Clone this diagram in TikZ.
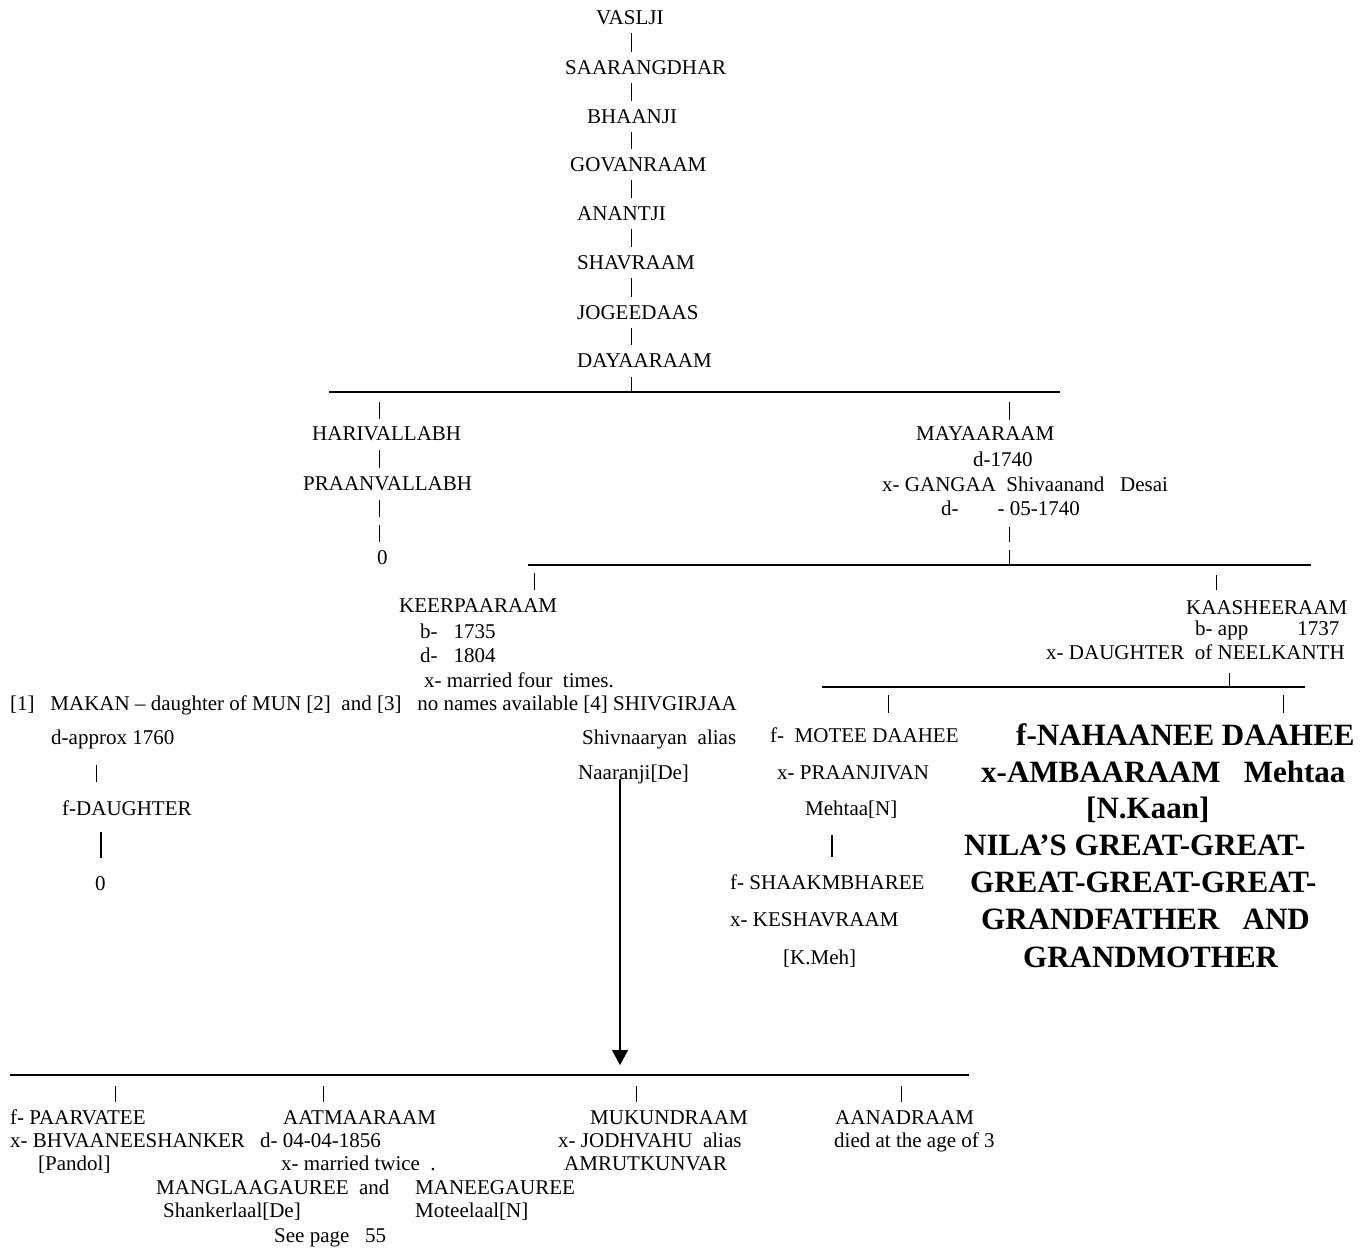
\documentclass[tikz,border=0pt]{standalone}
\usepackage{fontspec}
\setmainfont{Liberation Serif}
\usetikzlibrary{arrows.meta}
\begin{document}
\begin{tikzpicture}[x=1pt,y=-1pt,
  r/.style={inner sep=0pt, anchor=west, text height=14pt, text depth=0pt, font=\fontsize{21}{25}\selectfont},
  bt/.style={inner sep=0pt, anchor=west, text height=21pt, text depth=0pt, font=\fontsize{31}{37}\selectfont\bfseries},
  bar/.style={line width=0.8pt},
  hline/.style={line width=1.2pt},
  thickbar/.style={line width=2.4pt},
  arr/.style={line width=1.4pt, -{Triangle[width=16pt,length=15pt]}}
]
\fill[white] (0,0) rectangle (1364,1251);
\useasboundingbox (0,0) rectangle (1364,1251);

% ---------- top chain ----------
\node[r] (vaslji) at (596,17) {VASLJI};
\node[r] (saar)   at (565,67) {SAARANGDHAR};
\node[r] (bhaa)   at (587,116) {BHAANJI};
\node[r] (govan)  at (570,164) {GOVANRAAM};
\node[r] (anant)  at (577,213) {ANANTJI};
\node[r] (shav)   at (577,262) {SHAVRAAM};
\node[r] (joge)   at (577,312) {JOGEEDAAS};
\node[r] (daya)   at (577,360) {DAYAARAAM};

\coordinate (col) at (631,0);
\foreach \a/\b in {vaslji/saar, saar/bhaa, bhaa/govan, govan/anant, anant/shav, shav/joge, joge/daya}
  \draw[bar, shorten <=9pt, shorten >=8pt] (\a.south -| col) -- (\b.north -| col);

\coordinate (l1w) at (329,392);
\coordinate (l1e) at (1060,392);
\draw[hline] (l1w) -- (l1e);
\draw[bar, shorten <=10pt] (daya.south -| col) -- (l1w -| col);

% ---------- left branch ----------
\node[r] (hari)  at (312,433) {HARIVALLABH};
\node[r] (praan) at (303,483) {PRAANVALLABH};
\node[r] (zero)  at (377,557) {0};
\coordinate (harx) at (379,0);
\draw[bar, shorten <=10pt, shorten >=7pt] (l1w -| harx) -- (hari.north -| harx);
\draw[bar, shorten <=10pt, shorten >=8pt] (hari.south -| harx) -- (praan.north -| harx);
\draw[bar, shorten <=10pt, shorten >=8pt, dash pattern=on 17pt off 8pt] (praan.south -| harx) -- (zero.north -| harx);

% ---------- right branch ----------
\node[r] (maya)   at (916,433) {MAYAARAAM};
\node[r] (mayad)  at (973,459) {d-1740};
\node[r] (mayax)  at (882,484) {x- GANGAA\ \ Shivaanand\ \ \ Desai};
\node[r] (mayadd) at (941,508) {d-\hspace{39pt}- 05-1740};
\coordinate (mayx) at (1009,0);
\draw[bar, shorten <=10pt, shorten >=6pt] (l1w -| mayx) -- (maya.north -| mayx);

\coordinate (l2w) at (528,565);
\coordinate (l2e) at (1311,565);
\draw[hline] (l2w) -- (l2e);
\draw[bar, shorten <=12pt, dash pattern=on 15pt off 8pt] (mayadd.south -| mayx) -- (l2w -| mayx);

% ---------- KEERPAARAAM ----------
\node[r] (keer)  at (399,605) {KEERPAARAAM};
\node[r] (keerb) at (420,631) {b-\hspace{16pt}1735};
\node[r] (keerd) at (420,655) {d-\hspace{16pt}1804};
\node[r] (keerm) at (424,680) {x- married four\ \ times.};
\node[r] (wives) at (10,703) {[1]\ \ \ MAKAN – daughter of MUN [2]\ \ and [3]\ \ \ no names available [4] SHIVGIRJAA};
\coordinate (keerx) at (534,0);
\draw[bar, shorten <=8pt, shorten >=8pt] (l2w -| keerx) -- (keer.north -| keerx);

% ---------- KAASHEERAAM ----------
\node[r] (kaash)  at (1186,607) {KAASHEERAAM};
\node[r] (kaashb) at (1195,628) {b- app\hspace{49pt}1737};
\node[r] (kdau)   at (1046,652) {x- DAUGHTER\ \ of NEELKANTH};
\coordinate (kaashbx) at (1216,0);
\draw[bar, shorten <=10pt, shorten >=10pt] (l2w -| kaashbx) -- (kaash.north -| kaashbx);

\coordinate (l3w) at (822,687);
\coordinate (l3e) at (1305,687);
\draw[hline] (l3w) -- (l3e);
\coordinate (kx2) at (1229,0);
\draw[bar, shorten <=14pt] (kdau.south -| kx2) -- (l3w -| kx2);

% ---------- MAKAN's line ----------
\node[r] (approx) at (51,737) {d-approx 1760};
\node[r] (dau)    at (62,808) {f-DAUGHTER};
\node[r] (zero2)  at (95,883) {0};
\coordinate (apx) at (96,0);
\draw[bar, shorten <=21pt, shorten >=19pt] (approx.south -| apx) -- (dau.north -| apx);
\coordinate (dx) at (101,0);
\draw[thickbar, shorten <=17pt, shorten >=18pt] (dau.south -| dx) -- (zero2.north -| dx);

% ---------- SHIVGIRJAA ----------
\node[r] (shivn) at (582,737) {Shivnaaryan\ \ alias};
\node[r] (naar)  at (578,772) {Naaranji[De]};

% ---------- MOTEE DAAHEE ----------
\node[r] (motee)  at (770,735) {f-\ \ MOTEE DAAHEE};
\node[r] (praanj) at (777,772) {x- PRAANJIVAN};
\node[r] (mehtaa) at (805,808) {Mehtaa[N]};
\node[r] (shaak)  at (730,882) {f- SHAAKMBHAREE};
\node[r] (kesh)   at (730,919) {x- KESHAVRAAM};
\node[r] (kmeh)   at (783,957) {[K.Meh]};
\coordinate (motx) at (888,0);
\draw[bar, shorten <=8pt, shorten >=15pt] (l3w -| motx) -- (motee.north -| motx);
\coordinate (mx) at (832,0);
\draw[thickbar, shorten <=20pt, shorten >=18pt] (mehtaa.south -| mx) -- (shaak.north -| mx);

% ---------- NAHAANEE DAAHEE (bold) ----------
\node[bt] (nah)   at (1016,735) {f-NAHAANEE DAAHEE};
\node[bt] (amb)   at (981,772) {x-AMBAARAAM\ \ \ Mehtaa};
\node[bt] (nkaan) at (1086,808) {[N.Kaan]};
\node[bt] (nila)  at (964,845) {NILA’S GREAT-GREAT-};
\node[bt] (great) at (970,882) {GREAT-GREAT-GREAT-};
\node[bt] (gf)    at (981,919) {GRANDFATHER\ \ \ AND};
\node[bt] (gm)    at (1023,957) {GRANDMOTHER};
\coordinate (nahx) at (1283,0);
\draw[bar, shorten <=8pt, shorten >=11pt] (l3w -| nahx) -- (nah.north -| nahx);

% ---------- bottom generation ----------
\coordinate (l4w) at (10,1075);
\coordinate (l4e) at (969,1075);
\draw[hline] (l4w) -- (l4e);
\coordinate (ax) at (620,0);
\draw[arr, shorten >=10pt] (naar.south -| ax) -- (l4w -| ax);

\node[r] (paar)  at (10,1117) {f- PAARVATEE};
\node[r] (aatma) at (283,1117) {AATMAARAAM};
\node[r] (muku)  at (590,1117) {MUKUNDRAAM};
\node[r] (aana)  at (835,1117) {AANADRAAM};
\node[r] (bhva)  at (10,1140) {x- BHVAANEESHANKER};
\node[r] (aatd)  at (260,1140) {d- 04-04-1856};
\node[r] (jodh)  at (558,1140) {x- JODHVAHU\ \ alias};
\node[r] (died)  at (834,1140) {died at the age of 3};
\node[r] (pand)  at (38,1163) {[Pandol]};
\node[r] (twice) at (281,1163) {x- married twice\ \ .};
\node[r] (amru)  at (564,1163) {AMRUTKUNVAR};
\node[r] (mangl) at (156,1187) {MANGLAAGAUREE\ \ and};
\node[r] (manee) at (415,1187) {MANEEGAUREE};
\node[r] (shank) at (163,1210) {Shankerlaal[De]};
\node[r] (motl)  at (415,1210) {Moteelaal[N]};
\node[r] (seep)  at (274,1235) {See page\ \ \ 55};

\coordinate (bx1) at (115,0);
\coordinate (bx2) at (323,0);
\coordinate (bx3) at (636,0);
\coordinate (bx4) at (901,0);
\draw[bar, shorten <=11pt, shorten >=8pt] (l4w -| bx1) -- (paar.north -| bx1);
\draw[bar, shorten <=11pt, shorten >=8pt] (l4w -| bx2) -- (aatma.north -| bx2);
\draw[bar, shorten <=11pt, shorten >=8pt] (l4w -| bx3) -- (muku.north -| bx3);
\draw[bar, shorten <=11pt, shorten >=8pt] (l4w -| bx4) -- (aana.north -| bx4);
\end{tikzpicture}
\end{document}
